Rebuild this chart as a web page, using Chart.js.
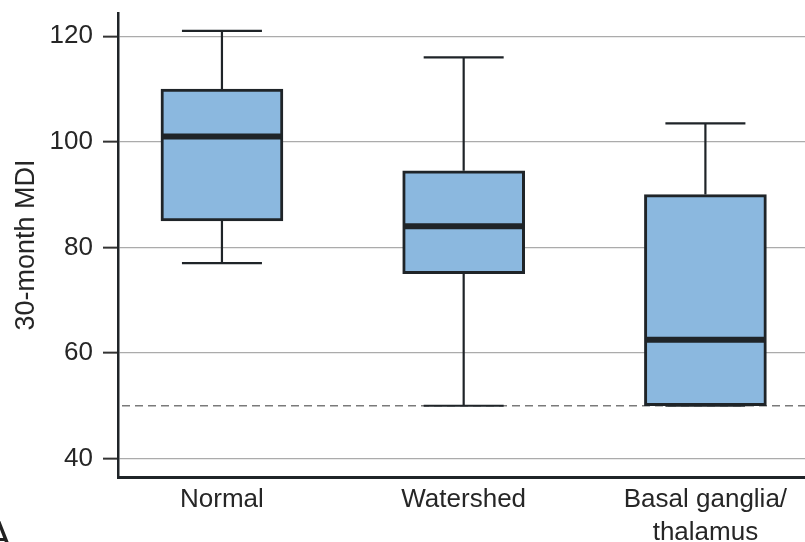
<!DOCTYPE html>
<html>
<head>
<meta charset="utf-8">
<script src="https://cdn.jsdelivr.net/npm/chart.js@4/dist/chart.umd.min.js"></script>
<style>
  html, body { margin: 0; padding: 0; background: #fff; }
  #wrap { width: 805px; height: 542px; }
</style>
</head>
<body>
<div id="wrap"><canvas id="mycanvas" width="805" height="542"></canvas></div>
<script>
// groups and their five-number summaries (30-month MDI)
var categories = ['Normal', 'Watershed', 'Basal ganglia/thalamus'];
var whiskerLow = [77, 50, 50];
var q1 = [85, 75, 50];
var median = [101, 84, 62.5];
var q3 = [110, 94.5, 90];
var whiskerHigh = [121, 116, 103.5];
var yTicks = [40, 60, 80, 100, 120];
var cutoff = 50;

var FONT = "'Liberation Sans', Arial, sans-serif";
var DARK = '#1f2428';
var TEXT = '#262626';

// whiskers, medians and the dashed cut-off line
var boxPlot = {
	id: 'boxPlot',
	beforeDatasetsDraw: function(chart) {
		var ctx = chart.ctx;
		var x = chart.scales.x, y = chart.scales.y;
		var area = chart.chartArea;

		ctx.save();
		ctx.strokeStyle = '#7a7a7a';
		ctx.lineWidth = 1.3;
		ctx.setLineDash([8, 5]);
		ctx.beginPath();
		ctx.moveTo(area.left + 4, y.getPixelForValue(cutoff));
		ctx.lineTo(area.right, y.getPixelForValue(cutoff));
		ctx.stroke();
		ctx.restore();

		ctx.save();
		ctx.strokeStyle = DARK;
		ctx.lineWidth = 2.2;
		for (var i = 0; i < categories.length; i++) {
			var xp = x.getPixelForValue(i);
			var cap = 40;
			ctx.beginPath();
			ctx.moveTo(xp, y.getPixelForValue(q3[i]));
			ctx.lineTo(xp, y.getPixelForValue(whiskerHigh[i]));
			ctx.moveTo(xp - cap, y.getPixelForValue(whiskerHigh[i]));
			ctx.lineTo(xp + cap, y.getPixelForValue(whiskerHigh[i]));
			ctx.moveTo(xp, y.getPixelForValue(q1[i]));
			ctx.lineTo(xp, y.getPixelForValue(whiskerLow[i]));
			ctx.moveTo(xp - cap, y.getPixelForValue(whiskerLow[i]));
			ctx.lineTo(xp + cap, y.getPixelForValue(whiskerLow[i]));
			ctx.stroke();
		}
		ctx.restore();
	},
	afterDatasetsDraw: function(chart) {
		var ctx = chart.ctx;
		var y = chart.scales.y;
		var bars = chart.getDatasetMeta(0).data;
		ctx.save();
		ctx.strokeStyle = DARK;
		ctx.lineWidth = 6;
		for (var i = 0; i < bars.length; i++) {
			var half = bars[i].width / 2 - 1.5;
			var yp = y.getPixelForValue(median[i]);
			ctx.beginPath();
			ctx.moveTo(bars[i].x - half, yp);
			ctx.lineTo(bars[i].x + half, yp);
			ctx.stroke();
		}
		ctx.restore();
	},
	afterDraw: function(chart) {
		var ctx = chart.ctx;
		ctx.save();
		ctx.fillStyle = '#222';
		ctx.font = '40px ' + FONT;
		ctx.textAlign = 'center';
		ctx.fillText('A', -2, 549);
		ctx.restore();
	}
};

var ctx = document.getElementById('mycanvas');

var boxChart = new Chart(ctx, {
	type: 'bar',
	data: {
		datasets: [
			{
				label: '30-month MDI',
				data: categories.map(function(c, i) { return { x: i, y: [q1[i], q3[i]] }; }),
				backgroundColor: '#8bb8df',
				borderColor: DARK,
				borderWidth: 3,
				borderSkipped: false,
				barThickness: 122
			}
		]
	},
	options: {
		responsive: false,
		animation: false,
		events: [],
		layout: { padding: { top: 13, left: 0, right: 0, bottom: 0 } },
		plugins: {
			legend: { display: false },
			tooltip: { enabled: false }
		},
		scales: {
			x: {
				type: 'linear',
				offset: false,
				min: -0.43,
				max: 2.412,
				grid: { display: false, drawTicks: false, offset: false },
				border: { display: true, color: DARK, width: 3 },
				afterBuildTicks: function(scale) {
					scale.ticks = categories.map(function(c, i) { return { value: i }; });
				},
				afterFit: function(scale) {
					scale.height = 65;
					scale.paddingLeft = 0;
					scale.paddingRight = 0;
				},
				ticks: {
					padding: 7,
					color: TEXT,
					font: { family: FONT, size: 26, lineHeight: 1.24 },
					maxRotation: 0,
					autoSkip: false,
					callback: function(value) {
						var name = categories[value];
						return name ? name.split(/(?<=\/)/) : '';
					}
				}
			},
			y: {
				min: 36.5,
				max: 124.4,
				grid: {
					color: '#ababab',
					lineWidth: 1.3,
					drawTicks: true,
					tickLength: 15,
					tickColor: '#333',
					tickWidth: 2
				},
				border: { display: true, color: DARK, width: 2.5 },
				afterBuildTicks: function(scale) {
					scale.ticks = yTicks.map(function(v) { return { value: v }; });
				},
				afterFit: function(scale) {
					scale.width = 118;
					scale.paddingTop = 0;
					scale.paddingBottom = 0;
				},
				ticks: {
					padding: 10,
					color: TEXT,
					font: { family: FONT, size: 26 }
				},
				title: {
					display: true,
					text: '30-month MDI',
					color: TEXT,
					font: { family: FONT, size: 27 },
					padding: { top: 10, bottom: 0 }
				}
			}
		}
	},
	plugins: [boxPlot]
});
</script>
</body>
</html>
